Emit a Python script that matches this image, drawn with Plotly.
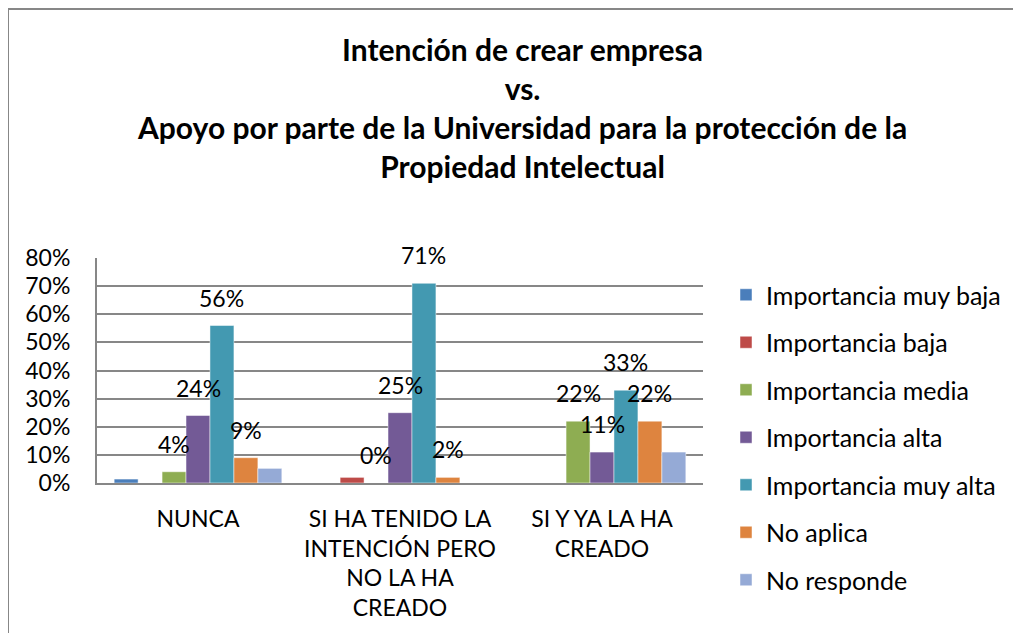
import plotly.graph_objects as go

categories = [
    "NUNCA",
    "SI HA TENIDO LA<br>INTENCIÓN PERO<br>NO LA HA<br>CREADO",
    "SI Y YA LA HA<br>CREADO",
]

series_names = [
    "Importancia muy baja",
    "Importancia baja",
    "Importancia media",
    "Importancia alta",
    "Importancia muy alta",
    "No aplica",
    "No responde",
]

muy_baja = [0.014, 0.0, 0.0]
baja = [0.0, 0.02, 0.0]
media = [0.04, 0.0, 0.22]
alta = [0.24, 0.25, 0.11]
muy_alta = [0.56, 0.71, 0.33]
no_aplica = [0.09, 0.02, 0.22]
no_responde = [0.052, 0.0, 0.11]

values = [muy_baja, baja, media, alta, muy_alta, no_aplica, no_responde]
# only these series carry data labels in the original
labeled = [False, False, True, True, True, True, False]

colors = ["#4A7EBB", "#BE4B48", "#8EAD52", "#735A96", "#4399B1", "#DE843F", "#95AAD6"]

FONT = "Lato, 'Open Sans', sans-serif"
OFF = 8  # page body margin
# keep the page inside the 1021x641 window (margin on both sides) so no scrollbars
W, H = 1021 - 2 * OFF, 641 - 2 * OFF
# plot area in screen pixels: x 97..703, y 258..483
PX0, PX1, PY0, PY1 = 97, 703, 258, 483
L, T = PX0 - OFF, PY0 - OFF
R, B = W - (PX1 - OFF), H - (PY1 - OFF)
BARGAP = 0.17

pw = PX1 - PX0
ph = PY1 - PY0


def px(x):
    return (x - PX0) / pw


def py(y):
    return (PY1 - y) / ph


fig = go.Figure()
for i, (name, vals) in enumerate(zip(series_names, values)):
    fig.add_trace(go.Bar(
        x=categories, y=vals, name=name,
        marker=dict(color=colors[i], line=dict(color="rgba(255,255,255,0.6)", width=0.8)),
        legendgroup=f"g{i}",
    ))

# data labels, sitting a bit above each bar
n = len(series_names)
group_w = 1 - BARGAP
bar_w = group_w / n
annotations = []
for j, vals in enumerate(values):
    if not labeled[j]:
        continue
    for ci, v in enumerate(vals):
        x = ci - group_w / 2 + (j + 0.5) * bar_w
        annotations.append(dict(
            x=x, y=v, xref="x", yref="y", text=f"{round(v * 100):.0f}%",
            showarrow=False, yanchor="bottom", yshift=12,
            font=dict(family=FONT, size=23, color="#000000"),
        ))

annotations.append(dict(
    x=px(522), y=py(108), xref="paper", yref="paper",
    text="<b>Intención de crear empresa<br>vs.<br>Apoyo por parte de la Universidad para la protección de la<br>Propiedad Intelectual</b>",
    showarrow=False, xanchor="center", yanchor="middle",
    font=dict(family=FONT, size=30, color="#000000"),
))

# chart-area border: only its left and top edges fall inside the picture
frame = dict(
    type="path", xref="paper", yref="paper",
    path=f"M {px(8)},{py(660)} L {px(8)},{py(9)} L {px(1040)},{py(9)}",
    line=dict(color="#878787", width=2), layer="below",
)

fig.update_layout(
    width=W, height=H,
    margin=dict(l=L, r=R, t=T, b=B, autoexpand=False),
    paper_bgcolor="white", plot_bgcolor="white",
    barmode="group", bargap=BARGAP, bargroupgap=0,
    font=dict(family=FONT, size=23, color="#000000"),
    annotations=annotations,
    shapes=[frame],
    showlegend=True,
    legend=dict(
        x=px(726), y=py(272), xanchor="left", yanchor="top",
        font=dict(family=FONT, size=25, color="#000000"),
        tracegroupgap=12, traceorder="grouped",
        bgcolor="rgba(0,0,0,0)", itemwidth=30, maxheight=600,
    ),
    xaxis=dict(
        showgrid=False, showline=True, linecolor="#878787", linewidth=2,
        ticks="", tickfont=dict(family=FONT, size=23), ticklabelstandoff=14,
    ),
    yaxis=dict(
        range=[0, 0.8], dtick=0.1, tickformat=".0%",
        showgrid=True, gridcolor="#878787", gridwidth=2,
        showline=True, linecolor="#878787", linewidth=2,
        ticks="", tickfont=dict(family=FONT, size=23), ticklabelstandoff=20,
        zeroline=False,
    ),
)

fig.write_html("out.html")
